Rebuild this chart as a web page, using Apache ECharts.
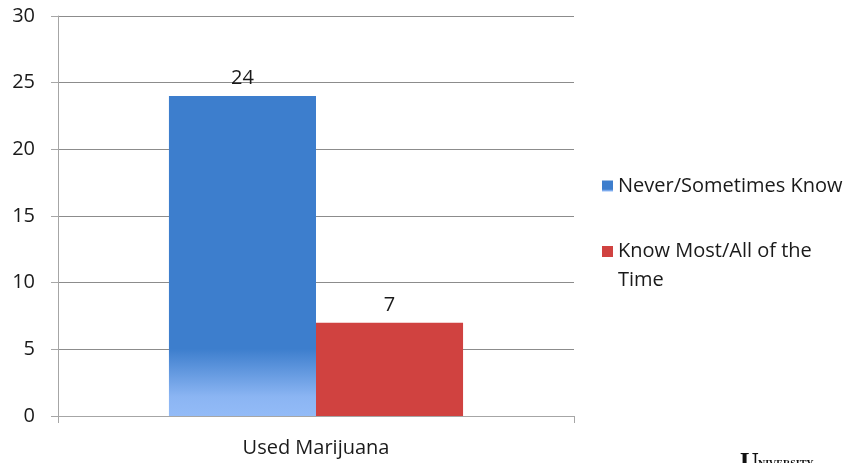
<!DOCTYPE html>
<html><head><meta charset="utf-8">
<script src="https://cdn.jsdelivr.net/npm/echarts@6/dist/echarts.min.js"></script>
<style>html,body{margin:0;padding:0;background:#fff}#c{width:860px;height:463px}</style>
</head><body><div id="c"></div>
<script>
const categories = ['Used Marijuana'];
const seriesNames = ['Never/Sometimes Know', 'Know Most/All of the Time'];
const neverSometimes = [24];
const knowMostAll = [7];
const yTicks = [0, 5, 10, 15, 20, 25, 30];

const FONT = '"Open Sans", Lato, sans-serif';
const chart = echarts.init(document.getElementById('c'));
chart.setOption({
  animation: false,
  textStyle: { fontFamily: FONT },
  grid: { left: 58, right: 286, top: 16, bottom: 47 },
  xAxis: {
    type: 'category', data: categories,
    axisLine: { lineStyle: { color: '#a6a6a6' } },
    axisTick: { show: true, length: 7, lineStyle: { color: '#a6a6a6' } },
    axisLabel: { color: '#1a1a1a', fontSize: 20, fontFamily: FONT, margin: 22 }
  },
  yAxis: {
    type: 'value', min: yTicks[0], max: yTicks[yTicks.length - 1], interval: 5,
    axisLine: { show: true, lineStyle: { color: '#a6a6a6' } },
    axisTick: { show: true, length: 7, lineStyle: { color: '#a6a6a6' } },
    splitLine: { lineStyle: { color: '#8c8c8c' } },
    axisLabel: { color: '#1a1a1a', fontSize: 20, fontFamily: FONT, margin: 23 }
  },
  legend: [
    { data: [seriesNames[0]], left: 597, top: 171, orient: 'vertical', icon: 'rect',
      itemWidth: 11, itemHeight: 11, itemGap: 6,
      textStyle: { fontSize: 20, color: '#1a1a1a', fontFamily: FONT } },
    { data: [seriesNames[1]], left: 597, top: 203, orient: 'vertical', icon: 'rect',
      itemWidth: 11, itemHeight: 11,
      formatter: n => '\n' + n.replace(' the ', ' the\n'),
      textStyle: { fontSize: 20, color: '#1a1a1a', fontFamily: FONT, lineHeight: 29 } }
  ],
  series: [
    { name: seriesNames[0], type: 'bar', data: neverSometimes, barGap: '0%', barCategoryGap: '43%',
      itemStyle: { color: new echarts.graphic.LinearGradient(0, 0, 0, 1, [
        { offset: 0, color: '#3d7ecd' }, { offset: 0.79, color: '#3d7ecd' },
        { offset: 0.94, color: '#8bb5f3' }, { offset: 1, color: '#93bbf7' }]) },
      label: { show: true, position: 'top', color: '#1a1a1a', fontSize: 20, fontFamily: FONT, distance: 8 } },
    { name: seriesNames[1], type: 'bar', data: knowMostAll,
      itemStyle: { color: '#d04240' },
      label: { show: true, position: 'top', color: '#1a1a1a', fontSize: 20, fontFamily: FONT, distance: 7 } }
  ],
  graphic: [
    { type: 'text', left: 740, top: 450, style: { text: 'U', font: 'bold 26px "Liberation Serif", serif', fill: '#111' } },
    { type: 'text', left: 758, top: 459, style: { text: 'NIVERSITY', font: 'bold 10px "Liberation Serif", serif', fill: '#111' } }
  ]
});
</script></body></html>
